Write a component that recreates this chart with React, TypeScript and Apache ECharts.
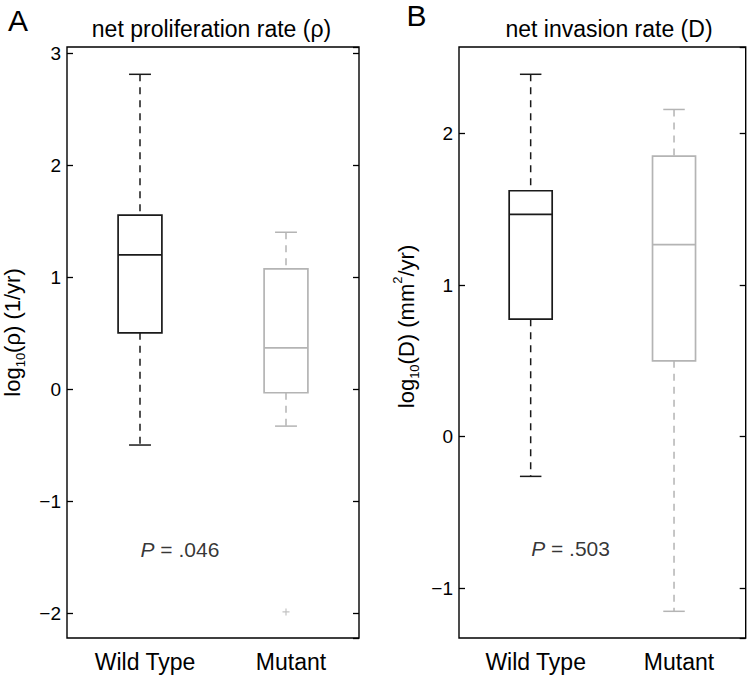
import React, { useEffect, useRef } from "react";
import * as echarts from "echarts";

// ---------- data ----------
const categories = ["Wild Type", "Mutant"];

// boxplot stats: [lower whisker, Q1, median, Q3, upper whisker]
const rhoWildType = [-0.497, 0.505, 1.202, 1.557, 2.815];
const rhoMutant = [-0.328, -0.03, 0.371, 1.077, 1.404];
const rhoMutantOutliers = [-1.988];

const dWildType = [-0.262, 0.775, 1.466, 1.622, 2.39];
const dMutant = [-1.152, 0.5, 1.266, 1.85, 2.158];

const rhoRange = [-2.221, 3.059];
const dRange = [-1.328, 2.57];

const pValueRho = ".046";
const pValueD = ".503";
const pPosRho = -1.426;
const pPosD = -0.738;

const titleA = "net proliferation rate (ρ)";
const titleB = "net invasion rate (D)";
const yNameA = "log{s|10}(ρ) (1/yr)";
const yNameB = "log{s|10}(D) (mm{p|2}/yr)";

// ---------- styles ----------
const FONT = '"Liberation Sans", Arial, Helvetica, sans-serif';
const BLACK = "#1a1a1a";
const GRAY = "#b4b4b4";
const groupColors = [BLACK, GRAY];

function boxRenderItem(params: any, api: any) {
  const cat = api.value(0);
  const x = api.coord([cat, api.value(1)])[0];
  const yMin = api.coord([cat, api.value(1)])[1];
  const yQ1 = api.coord([cat, api.value(2)])[1];
  const yMed = api.coord([cat, api.value(3)])[1];
  const yQ3 = api.coord([cat, api.value(4)])[1];
  const yMax = api.coord([cat, api.value(5)])[1];
  const band = api.size([1, 0])[0];
  const bw = band * 0.3;
  const cw = band * 0.15;
  const color = groupColors[cat];
  const solid = { stroke: color, lineWidth: 1.5, fill: "none" };
  const dashed = { stroke: color, lineWidth: 1.5, lineDash: [7, 6], fill: "none" };
  return {
    type: "group",
    children: [
      { type: "line", shape: { x1: x, y1: yMax, x2: x, y2: yQ3 }, style: dashed },
      { type: "line", shape: { x1: x, y1: yQ1, x2: x, y2: yMin }, style: dashed },
      { type: "line", shape: { x1: x - cw / 2, y1: yMax, x2: x + cw / 2, y2: yMax }, style: solid },
      { type: "line", shape: { x1: x - cw / 2, y1: yMin, x2: x + cw / 2, y2: yMin }, style: solid },
      {
        type: "rect",
        shape: { x: x - bw / 2, y: yQ3, width: bw, height: yQ1 - yQ3 },
        style: { stroke: color, lineWidth: 1.7, fill: "none" },
      },
      {
        type: "line",
        shape: { x1: x - bw / 2, y1: yMed, x2: x + bw / 2, y2: yMed },
        style: { stroke: color, lineWidth: 1.7 },
      },
    ],
  };
}

function minus(v: number) {
  return String(v).replace("-", "\u2212");
}

function leftY(gridIndex: number, range: number[], name: string, gap: number, shift: number) {
  return {
    type: "value",
    gridIndex,
    min: range[0],
    max: range[1],
    name,
    nameLocation: "middle",
    nameGap: gap,
    nameTextStyle: {
      fontFamily: FONT,
      fontSize: 22,
      color: "#000",
      lineHeight: 30,
      padding: [0, 0, 0, shift],
      rich: {
        s: { fontFamily: FONT, fontSize: 13, lineHeight: 16, verticalAlign: "bottom", color: "#000" },
        p: { fontFamily: FONT, fontSize: 13, lineHeight: 23, verticalAlign: "top", color: "#000" },
      },
    },
    axisLine: { show: false },
    axisTick: { show: true, inside: true, length: 6, lineStyle: { color: "#000", width: 1.3 } },
    splitLine: { show: false },
    axisLabel: {
      show: true,
      margin: 6,
      fontFamily: FONT,
      fontSize: 19,
      color: "#000",
      showMinLabel: false,
      showMaxLabel: false,
      formatter: (v: number) => minus(v),
    },
  };
}

function rightY(gridIndex: number, range: number[]) {
  return {
    type: "value",
    gridIndex,
    position: "right",
    min: range[0],
    max: range[1],
    axisLine: { show: false },
    axisTick: { show: true, inside: true, length: 6, lineStyle: { color: "#000", width: 1.3 } },
    splitLine: { show: false },
    axisLabel: { show: false },
  };
}

function catX(gridIndex: number) {
  return {
    type: "category",
    gridIndex,
    data: categories,
    axisLine: { show: false },
    axisTick: { show: false },
    splitLine: { show: false },
    axisLabel: {
      margin: 12,
      fontFamily: FONT,
      fontSize: 23,
      color: "#000",
      padding: [0, 0, 0, 10],
    },
  };
}

function pSeries(xAxisIndex: number, yAxisIndex: number, pos: number, p: string) {
  return {
    type: "scatter",
    xAxisIndex,
    yAxisIndex,
    silent: true,
    symbolSize: 1,
    itemStyle: { color: "rgba(0,0,0,0)" },
    data: [[0, pos]],
    label: {
      show: true,
      position: "right",
      distance: 0,
      formatter: "{i|P} = " + p,
      fontFamily: FONT,
      fontSize: 21,
      color: "#000",
      rich: { i: { fontFamily: FONT, fontSize: 21, fontStyle: "italic", color: "#000" } },
    },
  };
}

export default function App() {
  const ref = useRef<HTMLDivElement>(null);
  useEffect(() => {
    if (!ref.current) return;
    const chart = echarts.init(ref.current, undefined, { renderer: "svg" });
    const gridBase = {
      top: 47,
      bottom: 40,
      show: true,
      borderColor: "#000",
      borderWidth: 1.4,
      backgroundColor: "transparent",
      containLabel: false,
      outerBoundsMode: "none",
    };
    const option: any = {
      animation: false,
      backgroundColor: "#fff",
      grid: [
        { ...gridBase, left: 67, right: 390 },
        { ...gridBase, left: 459, right: 3.3 },
      ],
      xAxis: [catX(0), catX(1)],
      yAxis: [
        leftY(0, rhoRange, yNameA, 40, 20),
        rightY(0, rhoRange),
        leftY(1, dRange, yNameB, 38, 32),
        rightY(1, dRange),
      ],
      graphic: [
        { type: "text", x: 18, y: 20, style: { text: "A", fontFamily: FONT, fontSize: 30, fill: "#000", align: "center", verticalAlign: "middle", textAlign: "center", textVerticalAlign: "middle" } },
        { type: "text", x: 416.5, y: 15.5, style: { text: "B", fontFamily: FONT, fontSize: 30, fill: "#000", align: "center", verticalAlign: "middle", textAlign: "center", textVerticalAlign: "middle" } },
        { type: "text", x: 211.5, y: 29, style: { text: titleA, fontFamily: FONT, fontSize: 23, fill: "#000", align: "center", verticalAlign: "middle", textAlign: "center", textVerticalAlign: "middle" } },
        { type: "text", x: 609, y: 29, style: { text: titleB, fontFamily: FONT, fontSize: 23, fill: "#000", align: "center", verticalAlign: "middle", textAlign: "center", textVerticalAlign: "middle" } },
      ],
      series: [
        {
          type: "custom",
          xAxisIndex: 0,
          yAxisIndex: 0,
          renderItem: boxRenderItem,
          encode: { x: 0, y: [1, 2, 3, 4, 5] },
          data: [
            [0, ...rhoWildType],
            [1, ...rhoMutant],
          ],
        },
        {
          type: "scatter",
          xAxisIndex: 0,
          yAxisIndex: 0,
          silent: true,
          symbol: "path://M0,5L10,5M5,0L5,10",
          symbolSize: 7,
          itemStyle: { color: "rgba(0,0,0,0)", borderColor: GRAY, borderWidth: 1.2 },
          data: rhoMutantOutliers.map((v) => [1, v]),
        },
        pSeries(0, 0, pPosRho, pValueRho),
        {
          type: "custom",
          xAxisIndex: 1,
          yAxisIndex: 2,
          renderItem: boxRenderItem,
          encode: { x: 0, y: [1, 2, 3, 4, 5] },
          data: [
            [0, ...dWildType],
            [1, ...dMutant],
          ],
        },
        pSeries(1, 2, pPosD, pValueD),
      ],
    };
    chart.setOption(option);
    return () => chart.dispose();
  }, []);
  return (
    <div
      ref={ref}
      style={{ position: "fixed", left: 0, top: 0, width: 749, height: 678, background: "#fff" }}
    />
  );
}
